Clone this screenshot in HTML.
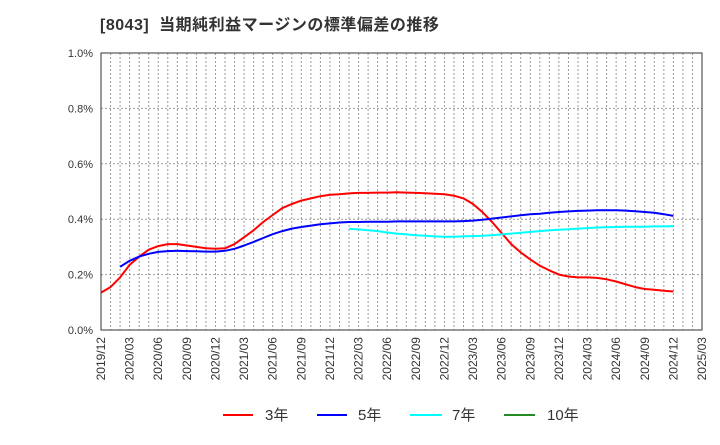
<!DOCTYPE html>
<html><head><meta charset="utf-8"><style>
body{margin:0;background:#fff;font-family:"Liberation Sans","Noto Sans CJK JP",sans-serif}
</style></head><body>
<svg id="c" width="720" height="440" xmlns="http://www.w3.org/2000/svg" font-family="Liberation Sans, Noto Sans CJK JP, sans-serif">
<text x="100" y="30" font-size="16" font-weight="bold" fill="#333" letter-spacing="0.5" xml:space="preserve">[8043]  当期純利益マージンの標準偏差の推移</text>
<g id="grid"></g><g id="axes"></g><g id="series"></g>
<g font-size="15" fill="#333">
<line x1="223" y1="415" x2="253" y2="415" stroke="#ff0000" stroke-width="2"/><text x="265" y="420">3年</text>
<line x1="317" y1="415" x2="347" y2="415" stroke="#0000ff" stroke-width="2"/><text x="358" y="420">5年</text>
<line x1="410" y1="415" x2="442" y2="415" stroke="#00ffff" stroke-width="2"/><text x="452" y="420">7年</text>
<line x1="504" y1="415" x2="535" y2="415" stroke="#228b22" stroke-width="2"/><text x="547" y="420">10年</text>
</g>
</svg>
<script>
const xLabels=["2019/12","2020/03","2020/06","2020/09","2020/12","2021/03","2021/06","2021/09","2021/12","2022/03","2022/06","2022/09","2022/12","2023/03","2023/06","2023/09","2023/12","2024/03","2024/06","2024/09","2024/12","2025/03"];
const yTicks=[0,0.2,0.4,0.6,0.8,1.0];
const s3Start=0;
const s3=[0.135,0.155,0.19,0.235,0.265,0.29,0.303,0.31,0.31,0.305,0.30,0.295,0.293,0.295,0.31,0.335,0.36,0.39,0.415,0.44,0.455,0.467,0.475,0.483,0.488,0.49,0.493,0.495,0.495,0.496,0.496,0.497,0.496,0.495,0.494,0.492,0.49,0.485,0.475,0.455,0.425,0.39,0.35,0.31,0.28,0.255,0.232,0.215,0.2,0.193,0.19,0.19,0.188,0.183,0.175,0.165,0.155,0.148,0.145,0.142,0.139];
const s5Start=2;
const s5=[0.228,0.25,0.265,0.275,0.282,0.285,0.286,0.285,0.284,0.283,0.283,0.286,0.293,0.305,0.318,0.332,0.346,0.357,0.366,0.372,0.377,0.382,0.385,0.388,0.39,0.39,0.391,0.391,0.391,0.392,0.392,0.392,0.392,0.392,0.392,0.392,0.393,0.395,0.398,0.402,0.406,0.41,0.414,0.418,0.42,0.423,0.426,0.428,0.43,0.431,0.432,0.432,0.432,0.431,0.429,0.426,0.423,0.418,0.412];
const s7Start=26;
const s7=[0.365,0.363,0.36,0.357,0.352,0.348,0.345,0.342,0.34,0.338,0.337,0.337,0.338,0.339,0.34,0.342,0.345,0.348,0.351,0.354,0.357,0.36,0.362,0.364,0.366,0.368,0.37,0.371,0.372,0.373,0.373,0.373,0.374,0.374,0.375];
const s10=[];
const L=101,R=702,T=53,B=330,NM=63;
const x=m=>L+(R-L)*m/NM, y=v=>B-(B-T)*v/1.0;
const NS="http://www.w3.org/2000/svg";
function mk(t,a,p){const e=document.createElementNS(NS,t);for(const k in a)e.setAttribute(k,a[k]);p.appendChild(e);return e;}
const g=document.getElementById('grid'),ax=document.getElementById('axes'),se=document.getElementById('series');
for(let m=1;m<NM;m++){const l=mk('line',{x1:x(m),x2:x(m),y1:T,y2:B,stroke:'#999','stroke-dasharray':'2,2','stroke-width':1},g);

}
yTicks.forEach(v=>{if(v>0&&v<1){const l=mk('line',{x1:L,x2:R,y1:y(v),y2:y(v),stroke:'#999','stroke-dasharray':'2,2','stroke-width':1},g);

}
const t=mk('text',{x:L-8,y:y(v)+4,'text-anchor':'end','font-size':11,fill:'#333'},ax);t.textContent=v.toFixed(1)+'%';

});
const fr=mk('rect',{x:L,y:T,width:R-L,height:B-T,fill:'none',stroke:'#333','stroke-width':1},ax);


xLabels.forEach((s,i)=>{const xx=x(i*3)+4;const t=mk('text',{x:xx,y:337,transform:`rotate(-90 ${xx} 337)`,'text-anchor':'end','font-size':12,fill:'#333'},ax);t.textContent=s;

});
function draw(arr,st,col,name){if(!arr.length)return;const d=arr.map((v,i)=>(i?'L':'M')+x(st+i).toFixed(1)+','+y(v).toFixed(1)).join(' ');
const p=mk('path',{d:d,fill:'none',stroke:col,'stroke-width':2,'stroke-linejoin':'round'},se);

}
draw(s3,s3Start,'#ff0000','series-3y');draw(s5,s5Start,'#0000ff','series-5y');draw(s7,s7Start,'#00ffff','series-7y');draw(s10,0,'#228b22','series-10y');
</script>
</body></html>
